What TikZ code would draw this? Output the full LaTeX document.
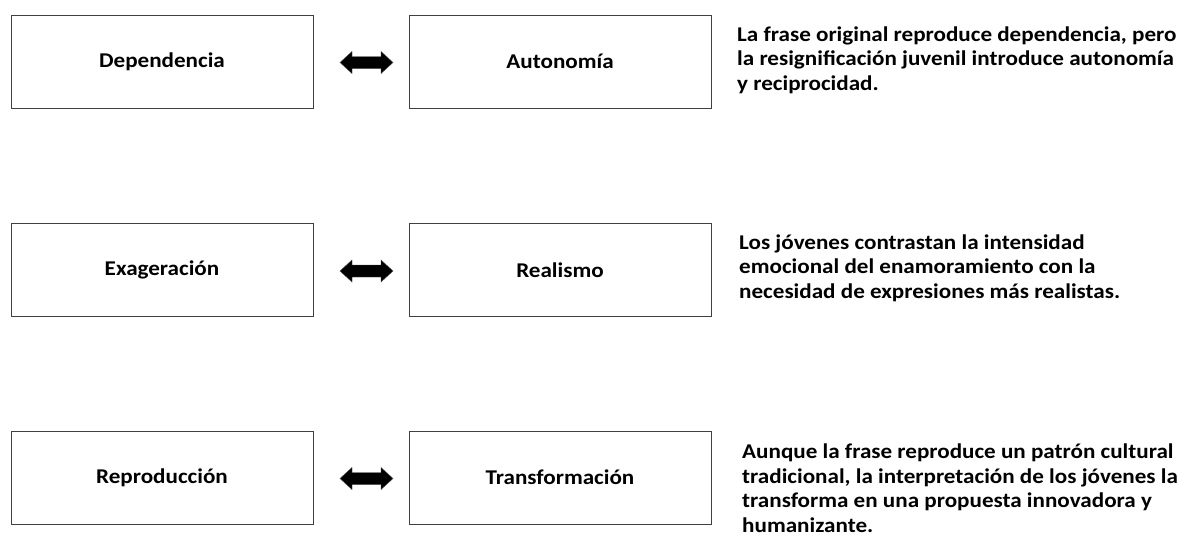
\documentclass[tikz,border=0pt]{standalone}
\usepackage{fontspec}
\setmainfont{Carlito}[FakeStretch=1.1]
\usetikzlibrary{calc}
\newcommand\dblarrow[1]{%
  \fill[dbl] ($(#1)+(-26.5,0)$) -- ++(12,-11) -- ++(0,5) -- ++(29,0) -- ++(0,-5)
    -- ++(12,11) -- ++(-12,11) -- ++(0,-5) -- ++(-29,0) -- ++(0,5) -- cycle;}
\begin{document}
\begin{tikzpicture}[x=1pt,y=-1pt,
  box/.style={draw=black!75, line width=0.9pt, minimum width=302pt, minimum height=93pt,
    inner sep=0pt, font=\fontsize{21}{24.5}\selectfont\bfseries},
  note/.style={anchor=base west, align=left, inner sep=0pt,
    font=\fontsize{21}{24.5}\selectfont\bfseries},
  dbl/.style={fill=black, draw=black!70, line width=0.4pt}]
\useasboundingbox (0,0) rectangle (1190,544);
% row 1
\node[box] (d) at (162,61.5) {Dependencia};
\node[box] (a) at (560,61.5) {Autonomía};
\coordinate (m1) at ($(d.east)!0.5!(a.west)+(5.5,1)$);
\dblarrow{m1}
\node[note] (t1) at (737,90) {La frase original reproduce dependencia, pero\\la resignificación juvenil introduce autonomía\\y reciprocidad.};
% row 2
\node[box] (e) at (162,270) {Exageración};
\node[box] (r) at (560,270) {Realismo};
\coordinate (m2) at ($(e.east)!0.5!(r.west)+(5.5,1)$);
\dblarrow{m2}
\node[note] (t2) at (739,298) {Los jóvenes contrastan la intensidad\\emocional del enamoramiento con la\\necesidad de expresiones más realistas.};
% row 3
\node[box] (p) at (162,477.5) {Reproducción};
\node[box] (f) at (560,477.5) {Transformación};
\coordinate (m3) at ($(p.east)!0.5!(f.west)+(5.5,1)$);
\dblarrow{m3}
\node[note] (t3) at (742,532) {Aunque la frase reproduce un patrón cultural\\tradicional, la interpretación de los jóvenes la\\transforma en una propuesta innovadora y\\humanizante.};
\end{tikzpicture}
\end{document}
